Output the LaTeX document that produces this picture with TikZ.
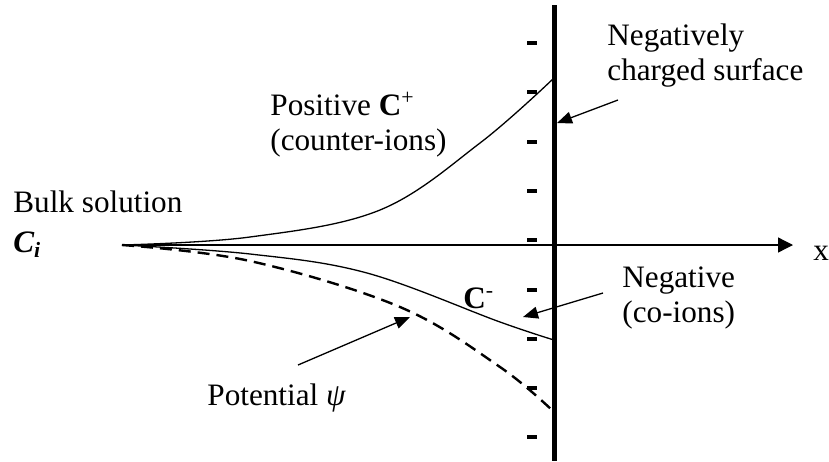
\documentclass[tikz,border=0pt]{standalone}
\usepackage{fontspec}
\setmainfont{Liberation Serif}
\usetikzlibrary{arrows.meta}
\begin{document}
\begin{tikzpicture}[x=0.5pt,y=-0.5pt,
    every node/.style={inner sep=0pt,font=\fontsize{15.6}{17.5}\selectfont},
    lbl/.style={anchor=base west,align=left},
    curve/.style={line width=0.65pt},
    pointer/.style={line width=0.65pt,-{Triangle[length=7.5pt,width=6pt]}},
    chargetick/.style={line width=2pt}]
    \useasboundingbox (0,0) rectangle (829,461);
    % surface and axis
    \coordinate (O) at (122,245);
    \coordinate (xend) at (793,245);
    \draw[line width=0.65pt,-{Triangle[length=7.5pt,width=7.5pt]}] (O) -- (xend);
    \node[lbl] (xlab) at (813,260) {x};
    \draw[line width=2.5pt] (554,5) -- (554,461);
    \foreach \y in {0,...,8}{\draw[chargetick] (527,{43+49.3*\y}) -- (537,{43+49.3*\y});}
    % concentration profiles
    \draw[curve] plot[smooth,tension=0.6] coordinates {(122,245) (250,237) (380,210) (480,143) (554,78)};
    \draw[curve] plot[smooth,tension=0.6] coordinates {(122,245) (250,254) (367,273) (500,322) (554,340)};
    \draw[line width=1.2pt,dash pattern=on 6pt off 3.5pt] plot[smooth,tension=0.6] coordinates {(122,245) (250,261) (400,307) (500,367) (554,412)};
    % labels (two-line labels sit on their last baseline)
    \node[lbl] (bulk) at (13,212) {Bulk solution};
    \node[lbl] (ci) at (13,252) {\textbf{\textit{C\textsubscript{i}}}};
    \node[lbl] (pos) at (270,150) {Positive \textbf{C}\textsuperscript{+}\\(counter-ions)};
    \node[lbl] (surf) at (607,80) {Negatively\\charged surface};
    \node[lbl] (neg) at (622,322) {Negative\\(co-ions)};
    \node[lbl] (cminus) at (463,308) {\textbf{C}\textsuperscript{-}};
    \node[lbl] (psi) at (207,405) {Potential \textit{ψ}};
    % pointers
    \coordinate (surftail) at (618,100);
    \coordinate (surftip) at (557,123);
    \coordinate (negtail) at (603,293);
    \coordinate (negtip) at (523,317);
    \coordinate (psitail) at (298,365);
    \coordinate (psitip) at (410,317);
    \draw[pointer] (surftail) -- (surftip);
    \draw[pointer] (negtail) -- (negtip);
    \draw[pointer] (psitail) -- (psitip);
\end{tikzpicture}
\end{document}
